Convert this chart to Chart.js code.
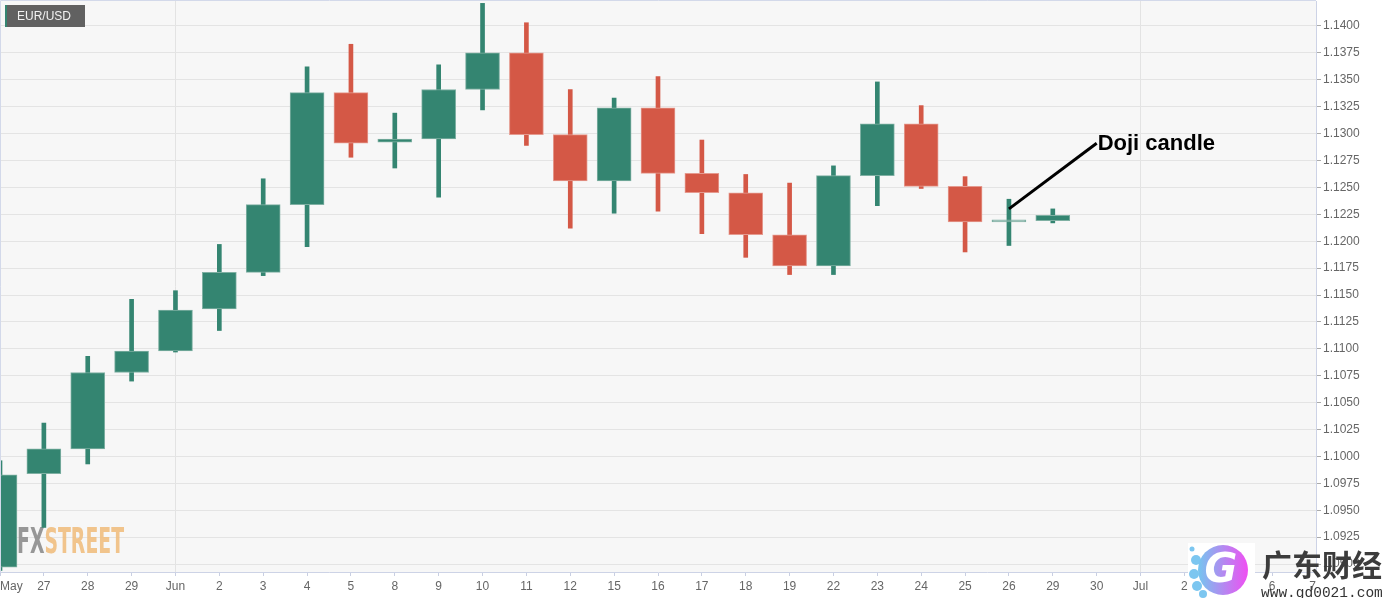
<!DOCTYPE html>
<html>
<head>
<meta charset="utf-8">
<script src="https://cdn.jsdelivr.net/npm/chart.js@4.4.0/dist/chart.umd.min.js"></script>
<style>
  html, body { margin: 0; padding: 0; background: #ffffff; }
  #wrap { width: 1387px; height: 598px; position: relative; }
</style>
</head>
<body>
<div id="wrap"><canvas id="c" width="1387" height="598"></canvas></div>
<script>
// ---- Data (EUR/USD daily) ----
const labels = ['May','27','28','29','Jun','2','3','4','5','8','9','10','11','12','15','16','17','18','19','22','23','24','25','26','29','30','Jul','2','3','6','7'];
const opens  = [1.0897,1.0984,1.1007,1.1078,1.1098,1.1137,1.1171,1.1234,1.1338,1.1292,1.1295,1.1341,1.1375,1.1299,1.1256,1.1324,1.1263,1.1245,1.1206,1.1177,1.1261,1.1309,1.1251,1.1218,1.1219];
const highs  = [1.0996,1.1031,1.1093,1.1146,1.1154,1.1197,1.1258,1.1362,1.1383,1.1319,1.1364,1.1421,1.1403,1.1341,1.1333,1.1353,1.1294,1.1262,1.1254,1.1270,1.1348,1.1326,1.1260,1.1239,1.1230];
const lows   = [1.0894,1.0934,1.0993,1.1070,1.1097,1.1117,1.1168,1.1195,1.1278,1.1268,1.1241,1.1322,1.1289,1.1212,1.1226,1.1228,1.1207,1.1185,1.1169,1.1169,1.1233,1.1249,1.1190,1.1196,1.1217];
const closes = [1.0983,1.1007,1.1078,1.1098,1.1136,1.1171,1.1234,1.1338,1.1291,1.1295,1.1341,1.1375,1.1299,1.1256,1.1324,1.1263,1.1245,1.1206,1.1177,1.1261,1.1309,1.1251,1.1218,1.1218,1.1224];
const yTickMin = 1.0900, yTickMax = 1.1400, yStep = 0.0025;
const yMin = 1.08926, yMax = 1.14232;
const symbol = 'EUR/USD';
const noteText = 'Doji candle';
const noteFrom = [23, 1.1230];   // [category index, price]
const noteTo   = [25.0, 1.1291];

const UP = '#348571', DOWN = '#d45846';
const UP_EDGE = '#7fb0a3', DOWN_EDGE = '#e59a8f';
const isUp = i => closes[i] >= opens[i];
const isDoji = i => closes[i] === opens[i];

const bodies = opens.map((o, i) => [o, closes[i]]);
const wicks = lows.map((l, i) => [l, highs[i]]);

const FONT = '"Liberation Sans", Arial, sans-serif';

const decor = {
  id: 'decor',
  beforeDraw(chart) {
    const { ctx, chartArea: a } = chart;
    ctx.save();
    ctx.fillStyle = '#ffffff';
    ctx.fillRect(0, 0, chart.width, chart.height);
    ctx.fillStyle = '#f7f7f7';
    ctx.fillRect(a.left, a.top, a.right - a.left, a.bottom - a.top);
    ctx.restore();
  },
  beforeDatasetsDraw(chart) {
    const { ctx } = chart;
    // FXSTREET watermark
    ctx.save();
    ctx.font = 'bold 36px "DejaVu Sans Condensed", "DejaVu Sans", sans-serif';
    ctx.textBaseline = 'alphabetic';
    const w1 = ctx.measureText('FX').width, w2 = ctx.measureText('STREET').width;
    const targetW = 107, sx = targetW / (w1 + w2);
    ctx.translate(17, 553);
    ctx.scale(sx, 1);
    ctx.fillStyle = 'rgba(140,140,140,0.9)';
    ctx.fillText('FX', 0, 0);
    ctx.fillStyle = 'rgba(240,190,128,0.9)';
    ctx.fillText('STREET', w1, 0);
    ctx.restore();
  },
  afterDraw(chart) {
    const { ctx, chartArea: a, scales } = chart;
    ctx.save();
    // top & left plot borders
    ctx.strokeStyle = '#d3d9ea';
    ctx.lineWidth = 1;
    ctx.beginPath();
    ctx.moveTo(a.left + 0.5, a.bottom);
    ctx.lineTo(a.left + 0.5, a.top - 0.5);
    ctx.lineTo(a.right, a.top - 0.5);
    ctx.stroke();

    // symbol label
    ctx.fillStyle = '#616161';
    ctx.fillRect(5, 5, 80, 22);
    ctx.fillStyle = UP;
    ctx.fillRect(5, 5, 2, 22);
    ctx.fillStyle = '#f2f2f2';
    ctx.font = '12px ' + FONT;
    ctx.textBaseline = 'middle';
    ctx.fillText(symbol, 17, 16.5);

    // annotation
    const x1 = scales.x.getPixelForValue(noteFrom[0]), y1 = scales.y.getPixelForValue(noteFrom[1]);
    const x2 = scales.x.getPixelForValue(noteTo[0]), y2 = scales.y.getPixelForValue(noteTo[1]);
    ctx.strokeStyle = '#000';
    ctx.lineWidth = 3;
    ctx.beginPath();
    ctx.moveTo(x1, y1);
    ctx.lineTo(x2, y2);
    ctx.stroke();
    ctx.fillStyle = '#000';
    ctx.font = 'bold 22px ' + FONT;
    ctx.textBaseline = 'middle';
    ctx.textAlign = 'left';
    ctx.fillText(noteText, x2 + 1, y2 + 1);

    // site logo watermark (bottom right)
    ctx.fillStyle = '#ffffff';
    ctx.fillRect(1188, 543, 67, 55);
    const g = ctx.createLinearGradient(1197, 0, 1248, 0);
    g.addColorStop(0, '#72c8ef');
    g.addColorStop(1, '#f04ef2');
    ctx.fillStyle = '#7cc6f0';
    [[1192,549,2.5],[1196,560,5],[1194,574,5],[1197,586,5],[1203,594,4]].forEach(([cx,cy,r]) => {
      ctx.beginPath(); ctx.arc(cx, cy, r, 0, Math.PI * 2); ctx.fill();
    });
    ctx.fillStyle = g;
    ctx.beginPath(); ctx.arc(1223, 570, 25, 0, Math.PI * 2); ctx.fill();
    ctx.fillStyle = '#ffffff';
    ctx.font = 'italic bold 40px "DejaVu Sans", sans-serif';
    ctx.textAlign = 'center';
    ctx.textBaseline = 'middle';
    ctx.fillText('G', 1221, 572);
    ctx.fillStyle = '#3c3c3c';
    ctx.textAlign = 'left';
    ctx.font = 'bold 30px "Noto Sans CJK SC", sans-serif';
    ctx.textBaseline = 'middle';
    ctx.fillText('广东财经', 1262, 565);
    ctx.font = '14.5px "Liberation Mono", "DejaVu Sans Mono", monospace';
    ctx.fillStyle = '#333';
    ctx.textBaseline = 'alphabetic';
    ctx.fillText('www.gd0021.com', 1261, 597);
    ctx.restore();
  }
};

new Chart(document.getElementById('c'), {
  type: 'bar',
  data: {
    labels: labels,
    datasets: [
      {
        label: 'wick',
        data: wicks,
        grouped: false,
        order: 2,
        barThickness: 4,
        backgroundColor: ctx => isUp(ctx.dataIndex) ? UP : DOWN,
        borderWidth: 0
      },
      {
        label: 'body',
        data: bodies,
        grouped: false,
        order: 1,
        barThickness: 34,
        minBarLength: 2,
        backgroundColor: ctx => isDoji(ctx.dataIndex) ? UP_EDGE : (isUp(ctx.dataIndex) ? UP : DOWN),
        borderColor: ctx => isUp(ctx.dataIndex) ? UP_EDGE : DOWN_EDGE,
        borderWidth: 1,
        borderSkipped: false
      }
    ]
  },
  options: {
    responsive: false,
    devicePixelRatio: 1,
    animation: false,
    layout: { padding: { top: 1, left: 0, right: 0, bottom: 0 } },
    plugins: { legend: { display: false }, tooltip: { enabled: false } },
    scales: {
      x: {
        offset: false,
        grid: {
          offset: false,
          color: ctx => (ctx.tick && (labels[ctx.index] === 'Jun' || labels[ctx.index] === 'Jul')) ? '#e3e3e3' : 'rgba(0,0,0,0)',
          tickColor: '#c9cfe2',
          tickLength: 4,
          drawOnChartArea: true
        },
        border: { color: '#cdd3e6', width: 1 },
        ticks: {
          autoSkip: false,
          maxRotation: 0,
          minRotation: 0,
          align: 'inner',
          padding: 3,
          color: '#666666',
          font: { family: FONT, size: 12 }
        },
        afterFit(scale) { scale.height = 26; scale.paddingLeft = 0; scale.paddingRight = 0; }
      },
      y: {
        position: 'right',
        min: yMin,
        max: yMax,
        grid: { color: '#e4e4e4', tickColor: '#aaaaaa', tickLength: 5 },
        border: { color: '#cdd3e6', width: 1 },
        ticks: {
          stepSize: yStep,
          includeBounds: false,
          padding: 2,
          color: '#666666',
          font: { family: FONT, size: 12 },
          callback: v => (v >= yTickMin - 1e-9 && v <= yTickMax + 1e-9) ? v.toFixed(4) : ''
        },
        afterFit(scale) { scale.width = 71; scale.paddingTop = 0; scale.paddingBottom = 0; }
      }
    }
  },
  plugins: [decor]
});
</script>
</body>
</html>
